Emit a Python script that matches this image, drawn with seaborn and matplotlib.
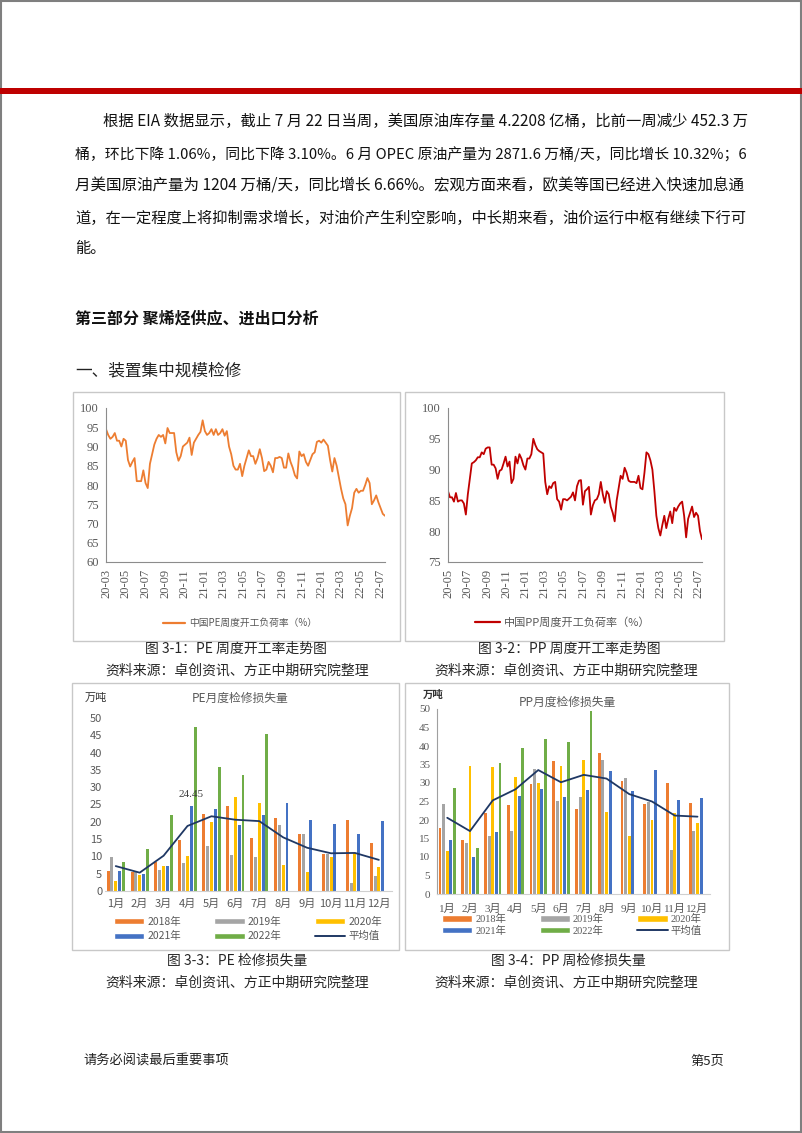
import numpy as np
import pandas as pd
import matplotlib
matplotlib.use("Agg")
import matplotlib.pyplot as plt
import matplotlib.dates as mdates
from matplotlib.patches import Rectangle, Patch
from matplotlib.lines import Line2D
import seaborn as sns

# ---------------- data ----------------
pe_rate = [94.5, 93, 92, 92.5, 93.5, 91.5, 91.5, 90, 92, 91.5, 86.5, 84.8, 86, 87, 81, 81, 81, 83.8, 80.5, 79.2,
           85.5, 88, 90.5, 92, 93, 92.5, 93, 90.8, 94.8, 93.5, 93.5, 93.5, 88.5, 86.3, 87.5, 90, 90.5, 91, 92.3, 87.8,
           91, 92, 93, 93.8, 96.8, 94, 93, 93.5, 94.5, 93, 94.5, 93, 93.5, 94.5, 92.8, 94, 90, 88, 85, 84,
           84, 85.5, 82.3, 85, 87, 89, 87.5, 87.5, 85.5, 87, 89.3, 87, 83.6, 84, 86, 85, 83.3, 87, 87, 87.3,
           87, 84.5, 84.5, 88.2, 86, 84.5, 82.5, 81.7, 88.7, 87.5, 88, 86, 85, 86.5, 88, 88.5, 91.2, 91.5, 91, 91.8,
           91, 90.2, 86.5, 83.5, 87, 85, 82, 79, 76.5, 75, 69.5, 72, 74, 78, 79, 78, 78.5, 78.5, 80, 81.8,
           80.5, 75, 76, 77.3, 75.5, 74, 72.5, 72]
pe_start, pe_end = "2020-03-01", "2022-07-16"

pp_rate = [86.5, 85.5, 85.5, 84.8, 86.2, 84.8, 85, 85, 84.5, 82.7, 86, 88.5, 91, 91.2, 91.5, 92, 92, 92.8, 92.5, 93.4,
           93.6, 93.6, 90.8, 90.8, 90.2, 88.5, 89.8, 90, 91, 92.1, 90.5, 91.3, 87.8, 88.5, 92.1, 91, 92.5, 91.8, 90.7, 90,
           91.8, 91.8, 92.5, 95, 94, 93.3, 93, 92.8, 92.6, 88, 86, 87.3, 87, 87.8, 88, 85.2, 84.8, 83.5, 85.2, 85.2,
           85, 85.3, 85.6, 86.3, 85, 87.3, 88.2, 88.3, 84.3, 86.5, 86.8, 87.2, 82.7, 84.2, 85, 85.2, 86, 88, 86, 84.6,
           86.5, 86, 84, 83, 81.6, 85, 87, 89, 88.5, 90.3, 89.5, 88.2, 88, 88, 88, 87.8, 89, 87, 86.8, 89.5,
           92.8, 92.5, 91.5, 90, 86.5, 82.5, 80.5, 79.3, 81, 82.5, 80.5, 82, 83.2, 81.3, 83.8, 83.3, 84, 84.5, 84.8, 82.5,
           79, 82, 83, 84, 82.3, 83, 82.5, 80, 78.7]
pp_start, pp_end = "2020-05-01", "2022-07-11"

months = ["1月", "2月", "3月", "4月", "5月", "6月", "7月", "8月", "9月", "10月", "11月", "12月"]
years = ["2018年", "2019年", "2020年", "2021年", "2022年"]
nan = np.nan
pe_2018 = [5.7, 5.6, 8.5, 14.7, 22.2, 24.6, 15.3, 21.2, 16.4, 10.7, 20.6, 13.9]
pe_2019 = [9.9, 5.5, 6.1, 8.0, 13.0, 10.5, 9.7, 19.1, 16.6, 10.7, 2.3, 4.2]
pe_2020 = [2.8, 4.6, 7.3, 10.1, 19.9, 27.3, 25.4, 7.5, 5.5, 9.8, 10.9, 7.0]
pe_2021 = [5.9, 4.8, 7.3, 24.45, 23.8, 19.0, 22.0, 25.4, 20.6, 19.3, 16.6, 20.1]
pe_2022 = [8.4, 12.0, 22.0, 47.3, 35.8, 33.4, 45.5, nan, nan, nan, nan, nan]
pe_avg = [7.2, 5.3, 10.2, 18.8, 21.6, 20.6, 20.2, 15.5, 12.5, 10.9, 11.0, 9.0]

pp_2018 = [17.8, 14.5, 21.9, 24.0, 29.8, 36.0, 23.0, 38.0, 30.5, 24.2, 30.1, 24.5]
pp_2019 = [24.2, 13.8, 15.8, 16.9, 33.9, 25.1, 26.2, 36.2, 31.4, 25.0, 11.9, 16.9]
pp_2020 = [11.6, 34.5, 34.3, 31.7, 30.1, 34.7, 36.3, 22.1, 15.6, 20.0, 21.8, 19.3]
pp_2021 = [14.5, 10.0, 16.7, 26.6, 28.4, 26.1, 28.0, 33.2, 27.8, 33.5, 25.4, 26.0]
pp_2022 = [28.6, 12.3, 35.4, 39.4, 42.0, 41.1, 49.5, nan, nan, nan, nan, nan]
pp_avg = [20.6, 17.0, 25.3, 28.3, 33.5, 30.2, 32.2, 31.2, 27.0, 25.0, 21.2, 20.9]

bar_colors = ["#ED7D31", "#A5A5A5", "#FFC000", "#4472C4", "#70AD47"]
avg_color = "#1F3864"

para = [
    "根据 EIA 数据显示，截止 7 月 22 日当周，美国原油库存量 4.2208 亿桶，比前一周减少 452.3 万",
    "桶，环比下降 1.06%，同比下降 3.10%。6 月 OPEC 原油产量为 2871.6 万桶/天，同比增长 10.32%；6",
    "月美国原油产量为 1204 万桶/天，同比增长 6.66%。宏观方面来看，欧美等国已经进入快速加息通",
    "道，在一定程度上将抑制需求增长，对油价产生利空影响，中长期来看，油价运行中枢有继续下行可",
    "能。",
]

# ---------------- setup ----------------
sns.set_style("white")
plt.rcParams["font.family"] = ["Noto Sans CJK SC", "DejaVu Sans"]
SERIF = ["Liberation Serif", "Noto Sans CJK SC"]
TICK_C = "#595959"

W, H = 802, 1133
fig = plt.figure(figsize=(W / 100, H / 100), dpi=100)


def ax_px(x0, y0, x1, y1):
    return fig.add_axes([x0 / W, 1 - y1 / H, (x1 - x0) / W, (y1 - y0) / H])


def txt(x, y, s, **kw):
    kw.setdefault("va", "center")
    return fig.text(x / W, 1 - y / H, s, **kw)


def box(x0, y0, x1, y1, ec="#C8C8C8", lw=1.0):
    fig.add_artist(Rectangle((x0 / W, 1 - y1 / H), (x1 - x0) / W, (y1 - y0) / H,
                             transform=fig.transFigure, fill=False, edgecolor=ec, lw=lw))


# page decoration
fig.add_artist(Rectangle((0.001, 0.001), 0.998, 0.998, transform=fig.transFigure,
                         fill=False, edgecolor="#7F7F7F", lw=1.5))
fig.add_artist(Rectangle((0, 1 - 94 / H), 1, 6 / H, transform=fig.transFigure,
                         facecolor="#BE0000", edgecolor="none"))

# paragraph (justified by fitting font size)
renderer = fig.canvas.get_renderer()
targets = [(103, 745), (75, 745), (75, 745), (75, 745), (75, None)]
ys = [121, 154, 186, 218, 249]
for line, (x0, x1), y in zip(para, targets, ys):
    t = txt(x0, y, line, fontsize=11, color="#111111")
    if x1 is not None:
        w = t.get_window_extent(renderer=renderer).width
        fs = 11 * (x1 - x0) / w
        t.set_fontsize(max(9.5, min(12.5, fs)))

txt(75, 318, "第三部分 聚烯烃供应、进出口分析", fontsize=11.5, weight="bold", color="#111111")
txt(75, 371, "一、装置集中规模检修", fontsize=12, color="#222222")

# chart frames
box(73, 392, 400, 641)
box(405, 392, 724, 641)
box(72, 683, 399, 950)
box(405, 683, 729, 950)


def style_line_axis(ax, ylo, yhi):
    ax.set_ylim(ylo, yhi)
    ax.set_yticks(range(ylo, yhi + 1, 5))
    ax.xaxis.set_major_locator(mdates.MonthLocator(bymonth=(1, 3, 5, 7, 9, 11)))
    ax.xaxis.set_major_formatter(mdates.DateFormatter("%y-%m"))
    for s in ["top", "right"]:
        ax.spines[s].set_visible(False)
    for s in ["left", "bottom"]:
        ax.spines[s].set_color("#8C8C8C")
        ax.spines[s].set_linewidth(0.8)
    ax.tick_params(axis="both", direction="out", length=3, width=0.7, color="#8C8C8C",
                   labelcolor=TICK_C, labelsize=9, pad=2)
    ax.tick_params(axis="x", rotation=90)
    for lab in ax.get_xticklabels() + ax.get_yticklabels():
        lab.set_family(SERIF)
    ax.set_xlabel("")
    ax.set_ylabel("")
    ax.set_facecolor("none")


# ---- chart 1: PE weekly ----
ax1 = ax_px(106, 408, 385, 562)
d_pe = pd.date_range(pe_start, pe_end, periods=len(pe_rate))
sns.lineplot(x=d_pe, y=pe_rate, color="#ED7D31", lw=1.3, ax=ax1)
ax1.set_xlim(pd.Timestamp(pe_start), d_pe[-1])
style_line_axis(ax1, 60, 100)
fig.legend(handles=[Line2D([], [], color="#ED7D31", lw=1.6)], labels=["中国PE周度开工负荷率（%）"],
           loc="center", bbox_to_anchor=(240 / W, 1 - 623 / H), frameon=False,
           prop={"size": 7}, labelcolor=TICK_C, handlelength=2.2, handletextpad=0.4)

# ---- chart 2: PP weekly ----
ax2 = ax_px(448, 408, 702, 562)
d_pp = pd.date_range(pp_start, pp_end, periods=len(pp_rate))
sns.lineplot(x=d_pp, y=pp_rate, color="#C00000", lw=1.3, ax=ax2)
ax2.set_xlim(pd.Timestamp(pp_start), d_pp[-1])
style_line_axis(ax2, 75, 100)
fig.legend(handles=[Line2D([], [], color="#C00000", lw=1.6)], labels=["中国PP周度开工负荷率（%）"],
           loc="center", bbox_to_anchor=(563 / W, 1 - 623 / H), frameon=False,
           prop={"size": 8}, labelcolor=TICK_C, handlelength=2.2, handletextpad=0.4)

# captions
txt(236, 649, "图 3-1：PE 周度开工率走势图", ha="center", fontsize=10)
txt(237, 671, "资料来源：卓创资讯、方正中期研究院整理", ha="center", fontsize=10)
txt(569, 649, "图 3-2：PP 周度开工率走势图", ha="center", fontsize=10)
txt(566, 671, "资料来源：卓创资讯、方正中期研究院整理", ha="center", fontsize=10)
txt(237, 960, "图 3-3：PE 检修损失量", ha="center", fontsize=10)
txt(237, 983, "资料来源：卓创资讯、方正中期研究院整理", ha="center", fontsize=10)
txt(568, 960, "图 3-4：PP 周检修损失量", ha="center", fontsize=10)
txt(566, 983, "资料来源：卓创资讯、方正中期研究院整理", ha="center", fontsize=10)


def bar_df(series):
    rows = []
    for yr, vals in zip(years, series):
        for m, v in zip(months, vals):
            rows.append({"month": m, "year": yr, "value": v})
    return pd.DataFrame(rows)


def bar_chart(ax, series, avg, serif, left_spine, pad):
    df = bar_df(series)
    sns.barplot(data=df, x="month", y="value", hue="year", order=months, hue_order=years,
                palette=bar_colors, width=0.8, gap=0.22, errorbar=None, legend=False,
                saturation=1, linewidth=0, edgecolor="none", ax=ax)
    sns.lineplot(x=np.arange(len(months)), y=avg, color=avg_color, lw=1.3, ax=ax)
    ax.set_ylim(0, 50)
    ax.set_yticks(range(0, 51, 5))
    ax.set_xlim(-0.45, len(months) - 0.45)
    ax.set_xlabel("")
    ax.set_ylabel("")
    for s in ["top", "right"]:
        ax.spines[s].set_visible(False)
    ax.spines["bottom"].set_color("#D0D0D0")
    ax.spines["left"].set_visible(left_spine)
    ax.spines["left"].set_color("#A0A0A0")
    ax.tick_params(axis="x", length=0, labelsize=8, labelcolor=TICK_C, pad=pad)
    ax.tick_params(axis="y", length=3 if left_spine else 0, color="#A0A0A0", direction="out",
                   labelsize=8, labelcolor=TICK_C, pad=2)
    if serif:
        for lab in ax.get_xticklabels() + ax.get_yticklabels():
            lab.set_family(SERIF)
    ax.set_facecolor("none")


def bar_legend(cx, cy, serif, rowspacing):
    h = [Patch(facecolor=c) for c in bar_colors]
    havg = Line2D([], [], color=avg_color, lw=1.4)
    handles = [h[0], h[3], h[1], h[4], h[2], havg]
    labels = [years[0], years[3], years[1], years[4], years[2], "平均值"]
    prop = {"size": 7.5}
    if serif:
        prop["family"] = SERIF
    fig.legend(handles=handles, labels=labels, ncol=3, loc="center",
               bbox_to_anchor=(cx / W, 1 - cy / H), frameon=False, prop=prop,
               labelcolor=TICK_C, handlelength=2.9, handleheight=0.55, handletextpad=0.3,
               columnspacing=3.2, labelspacing=rowspacing)


# ---- chart 3: PE monthly loss ----
ax3 = ax_px(105, 718, 392, 891)
bar_chart(ax3, [pe_2018, pe_2019, pe_2020, pe_2021, pe_2022], pe_avg, serif=False, left_spine=False, pad=6)
ax3.text(3 + 0.8 / 5, pe_2021[3] + 2.0, "24.45", ha="center", va="bottom", fontsize=8,
         color="#404040", family=SERIF)
txt(240, 698, "PE月度检修损失量", ha="center", fontsize=8.5, color=TICK_C)
txt(96, 698, "万吨", ha="center", fontsize=8, color="#333333")
bar_legend(248, 929, serif=False, rowspacing=0.45)

# ---- chart 4: PP monthly loss ----
ax4 = ax_px(437, 709, 710, 894)
bar_chart(ax4, [pp_2018, pp_2019, pp_2020, pp_2021, pp_2022], pp_avg, serif=True, left_spine=True, pad=7)
txt(567, 702, "PP月度检修损失量", ha="center", fontsize=8.5, color=TICK_C)
txt(423, 695, "万吨", ha="left", fontsize=7.5, color="#333333", weight="bold")
bar_legend(572, 925, serif=True, rowspacing=0.15)

# footer
txt(83, 1061, "请务必阅读最后重要事项", fontsize=9.5, color="#222222")
txt(690, 1061, "第5页", fontsize=9.5, color="#222222")

fig.savefig("out.png", dpi=100)
